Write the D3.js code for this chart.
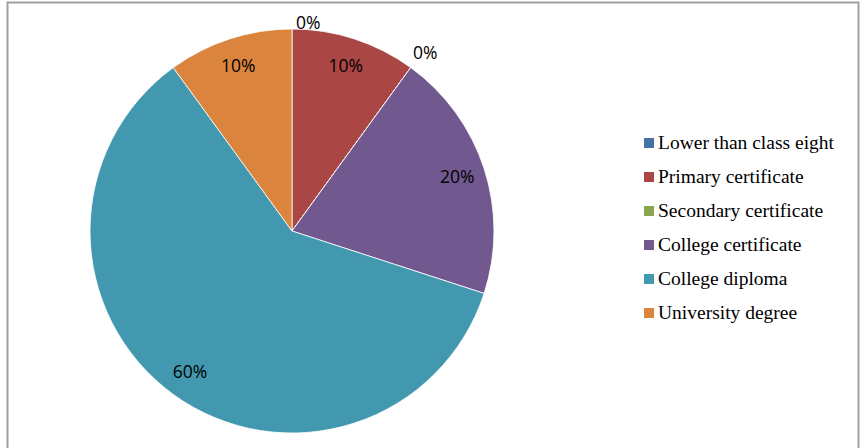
<!DOCTYPE html>
<html>
<head>
<meta charset="utf-8">
<script src="https://cdn.jsdelivr.net/npm/d3@7"></script>
<style>
  body { margin: 0; background: #fff; }
  svg { display: block; }
</style>
</head>
<body>
<svg class="pieChart" width="862" height="448"></svg>
<script>
// education levels, clockwise from 12 o'clock
const categories = ['Lower than class eight', 'Primary certificate', 'Secondary certificate',
    'College certificate', 'College diploma', 'University degree'];
const shares = [0, 10, 0, 20, 60, 10];
const labels = ['0%', '10%', '0%', '20%', '60%', '10%'];
const colors = ['#4572A7', '#AA4643', '#89A54E', '#71588F', '#4198AF', '#DB843D'];

let svg = d3.select('.pieChart');
const CX = 292, CY = 231, R = 202;

// chart frame
svg.append('rect')
    .attr('x', 7.5).attr('y', 2.5)
    .attr('width', 851).attr('height', 460)
    .attr('fill', 'none')
    .attr('stroke', '#a0a0a0')
    .attr('stroke-width', 2);

let data = categories.map((c, i) => ({name: c, value: shares[i], label: labels[i], color: colors[i]}));

let pie = d3.pie().sort(null).value(d => d.value);
let arcs = pie(data);
let arc = d3.arc().innerRadius(0).outerRadius(R);
let labelArc = d3.arc().innerRadius(R * 0.86).outerRadius(R * 0.86);

let g = svg.append('g').attr('transform', `translate(${CX},${CY})`);

g.selectAll('path')
    .data(arcs)
    .join('path')
    .attr('d', arc)
    .attr('fill', d => d.data.color)
    .attr('stroke', '#fff')
    .attr('stroke-width', 0.8);

// inside labels for non-zero slices, outside for the empty ones
g.selectAll('text')
    .data(arcs)
    .join('text')
    .attr('font-family', '"Open Sans", "Noto Sans", sans-serif')
    .attr('font-size', 17.5)
    .attr('fill', '#000')
    .each(function(d) {
        let t = d3.select(this).text(d.data.label);
        if (d.data.value > 0) {
            let [x, y] = labelArc.centroid(d);
            t.attr('x', x).attr('y', y).attr('text-anchor', 'middle').attr('dy', '0.35em');
        } else {
            let a = d.startAngle;
            let r = a === 0 ? R + 2 : R + 4;
            let x = Math.sin(a) * r, y = -Math.cos(a) * r;
            t.attr('x', x + (a === 0 ? 4 : 0)).attr('y', y + (a === 0 ? 2 : -5)).attr('text-anchor', 'start');
        }
    });

// legend
let legend = svg.append('g').attr('transform', 'translate(644,143)');
let items = legend.selectAll('g')
    .data(data)
    .join('g')
    .attr('transform', (d, i) => `translate(0,${i * 34})`);
items.append('rect')
    .attr('x', 0).attr('y', -5)
    .attr('width', 10).attr('height', 10)
    .attr('fill', d => d.color);
items.append('text')
    .attr('x', 14)
    .attr('dy', '0.33em')
    .attr('font-family', '"Liberation Serif", "Times New Roman", serif')
    .attr('font-size', 19.5)
    .attr('fill', '#000')
    .text(d => d.name);
</script>
</body>
</html>
